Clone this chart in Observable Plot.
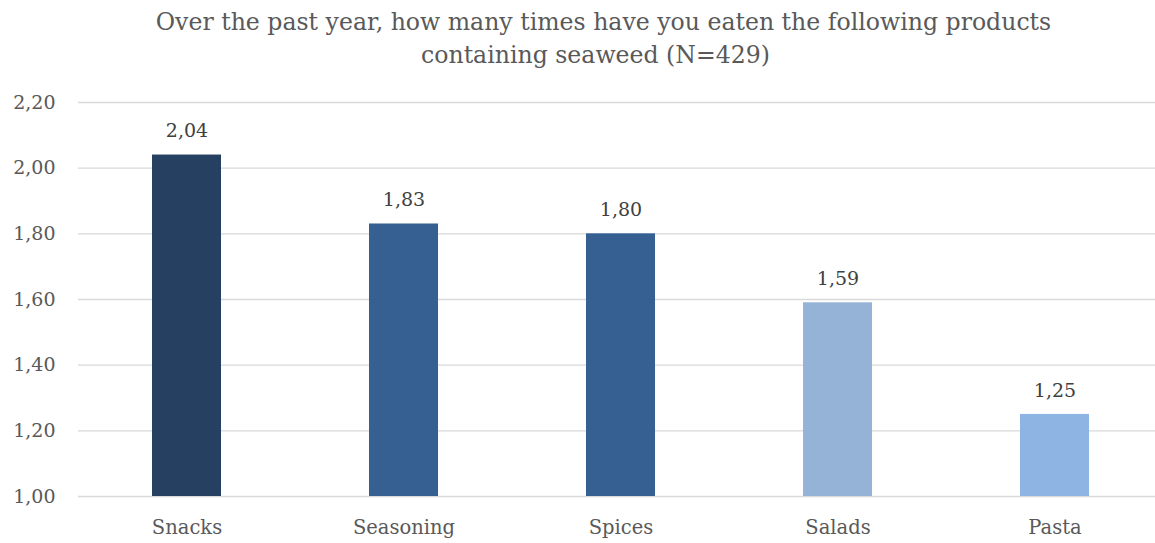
<!DOCTYPE html>
<html>
<head>
<meta charset="utf-8">
<script src="https://cdn.jsdelivr.net/npm/d3@7"></script>
<script src="https://cdn.jsdelivr.net/npm/@observablehq/plot@0.6"></script>
<style>
  html, body { margin: 0; padding: 0; background: #fff; }
  #title { width: 1155px; height: 80px; box-sizing: border-box; padding-top: 6px;
    font-family: "DejaVu Serif", serif; font-size: 23.6px; line-height: 33px; color: #595959; }
  #title div { text-align: center; box-sizing: border-box; width: 1155px; white-space: nowrap; }
  #t1 { padding-left: 52px; }
  #t2 { padding-left: 36px; }
  svg { display: block; }
</style>
</head>
<body>
<div id="title"><div id="t1">Over the past year, how many times have you eaten the following products</div><div id="t2">containing seaweed (N=429)</div></div>
<div id="chart"></div>
<script>
const categories = ["Snacks", "Seasoning", "Spices", "Salads", "Pasta"];
const values = [2.04, 1.83, 1.80, 1.59, 1.25];
const colors = ["#264061", "#366092", "#366092", "#95B3D7", "#8EB4E3"];
const yTicks = [1.0, 1.2, 1.4, 1.6, 1.8, 2.0, 2.2];

const data = categories.map((c, i) => ({category: c, value: values[i], color: colors[i]}));
const fmt = v => v.toFixed(2).replace(".", ",");

const chart = Plot.plot({
  width: 1155,
  height: 463,
  marginTop: 22,
  marginBottom: 47,
  marginLeft: 78,
  marginRight: 0,
  style: {fontFamily: "DejaVu Serif, serif", fontSize: "19px", color: "#595959", background: "#fff"},
  x: {domain: categories, range: [78, 1163], paddingInner: 0.68, paddingOuter: 0.34, label: null},
  y: {domain: [1.0, 2.2], label: null},
  marks: [
    Plot.ruleY(yTicks, {stroke: "#d9d9d9", strokeWidth: 1.3}),
    Plot.barY(data, {x: "category", y1: 1.0, y2: "value", fill: "color"}),
    Plot.text(data, {x: "category", y: "value", text: d => fmt(d.value), dy: -24, fill: "#404040", fontSize: 19}),
    Plot.axisY(yTicks, {tickSize: 0, tickPadding: 0, dx: -23, textAnchor: "end", tickFormat: fmt, fill: "#595959", fontSize: 19}),
    Plot.axisX({tickSize: 0, tickPadding: 24, fill: "#595959", fontSize: 19.5})
  ]
});
document.getElementById("chart").appendChild(chart);
</script>
</body>
</html>
